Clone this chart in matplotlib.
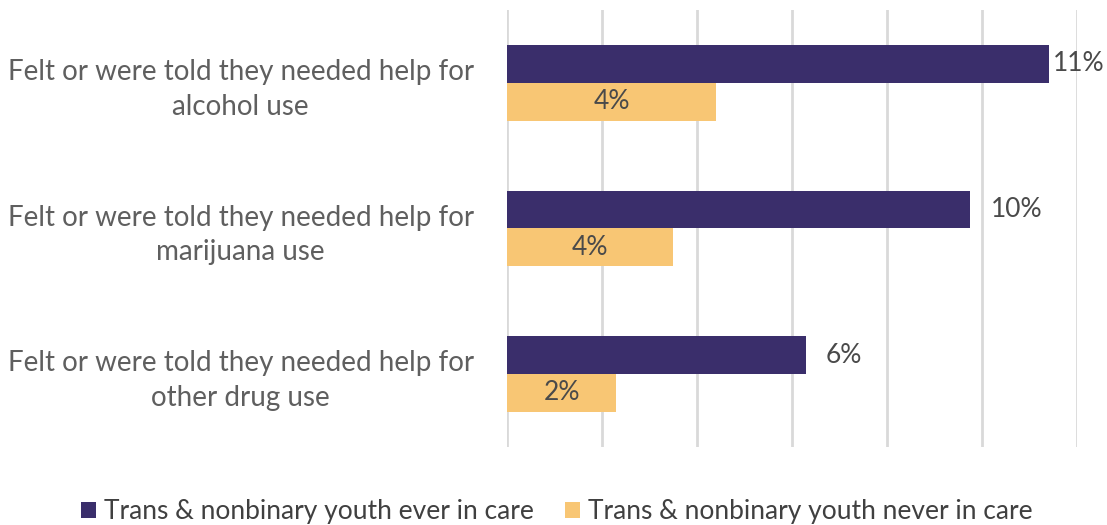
import matplotlib
matplotlib.use('Agg')
import matplotlib.pyplot as plt
import numpy as np

# ── Data ──────────────────────────────────────────────────────────────────
categories = ['Felt or were told they needed help for\nalcohol use',
              'Felt or were told they needed help for\nmarijuana use',
              'Felt or were told they needed help for\nother drug use']
ever_in_care  = [11.4, 9.75, 6.3]
never_in_care = [4.4, 3.5, 2.3]
series_names  = ['Trans & nonbinary youth ever in care',
                 'Trans & nonbinary youth never in care']

DARK   = '#3a2e6b'
YELLOW = '#f8c674'
TEXT   = '#5f5f5f'

plt.rcParams['font.family'] = ['Lato', 'DejaVu Sans']

fig = plt.figure(figsize=(11.07, 5.25), dpi=100)
ax = fig.add_axes([0.458, 0.149, 0.515, 0.832])

y = np.arange(len(categories))
h = 0.26
b1 = ax.barh(y - h/2, ever_in_care, h, color=DARK, zorder=3,
             label=series_names[0])
b2 = ax.barh(y + h/2, never_in_care, h, color=YELLOW, zorder=3,
             label=series_names[1])

# labels: outside end for the dark bars, centred for the yellow ones
offsets = [3, 15, 14]
for rect, v, off in zip(b1, ever_in_care, offsets):
    ax.annotate(f'{v:.0f}%', (rect.get_width(), rect.get_y() + rect.get_height()/2),
                xytext=(off, 0), textcoords='offset points',
                ha='left', va='center', fontsize=19, color='#4a4a4a')
ax.bar_label(b2, labels=[f'{v:.0f}%' for v in never_in_care],
             label_type='center', fontsize=19, color='#4a4a4a')

ax.set_xlim(0, 12)
ax.set_ylim(2.5, -0.5)
ax.set_xticks(np.arange(0, 13, 2))
ax.xaxis.grid(True, color='#d9d9d9', lw=2, zorder=0)
ax.tick_params(axis='x', length=0, labelbottom=False)
ax.tick_params(axis='y', length=0, pad=24)
ax.set_yticks(y)
ax.set_yticklabels(categories, fontsize=20, color=TEXT,
                   multialignment='center', linespacing=1.4)
for lbl in ax.get_yticklabels():
    lbl.set_verticalalignment('center_baseline')
for s in ax.spines.values():
    s.set_visible(False)

fig.legend(handles=[b1, b2], loc='center', bbox_to_anchor=(0.503, 0.025),
           ncol=2, frameon=False, fontsize=19, labelcolor='#404040',
           handlelength=0.55, handleheight=0.55, handletextpad=0.3,
           columnspacing=1.2)

fig.savefig('out.png', dpi=100)
